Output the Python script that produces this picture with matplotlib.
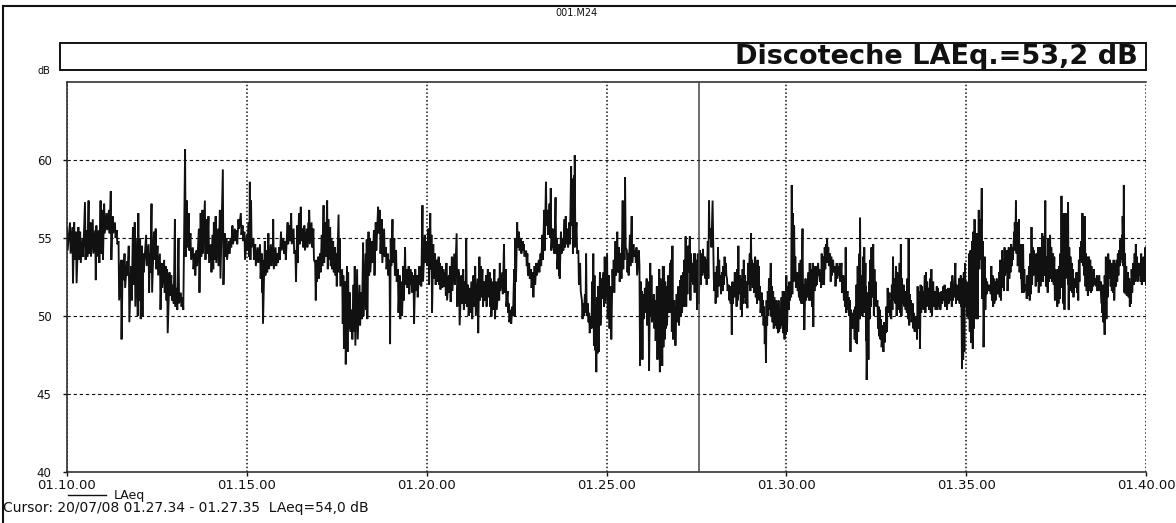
import matplotlib.pyplot as plt
from matplotlib.patches import Rectangle
from matplotlib.lines import Line2D

# LAeq short-time levels, 01.10.00 - 01.40.00
# sec = seconds after 01.10.00, peak / dip = top and bottom of the trace in that slot (dB)
sec = [
    0, 5, 9, 12, 15, 19, 22, 26, 30, 33,
    36, 39, 43, 47, 49, 53, 56, 59, 62, 66,
    70, 73, 76, 80, 83, 86, 90, 93, 96, 100,
    103, 107, 110, 113, 117, 119, 122, 125, 127, 132,
    136, 138, 141, 145, 148, 151, 155, 158, 162, 165,
    167, 171, 174, 177, 180, 183, 186, 190, 193, 197,
    200, 203, 206, 210, 213, 216, 220, 223, 226, 230,
    233, 236, 240, 243, 245, 248, 252, 255, 260, 263,
    266, 270, 273, 276, 280, 283, 286, 290, 293, 296,
    300, 303, 305, 307, 311, 314, 318,
    322, 325, 326, 330, 333, 336, 340, 342, 344, 348,
    351, 354, 357, 361, 364, 368, 371, 374, 378, 381,
    384, 387, 390, 393, 396, 400, 403, 404, 408, 411,
    414, 416, 419, 422, 425, 428, 431, 434, 436, 439,
    441, 444, 447, 449, 453, 455, 459, 461, 464, 467,
    469, 472, 475, 478, 480, 484, 488, 491, 494, 498,
    500, 503, 505, 509, 512, 515, 519, 522, 525, 529,
    532, 535, 538, 540, 543, 546, 549, 552, 555, 558,
    561, 564, 567, 570, 573, 575, 578, 581, 584, 588,
    590, 593, 597, 600, 603, 606, 608, 611, 614, 617,
    620, 622, 625, 628, 631, 633, 637,
    639, 642, 646, 650, 653, 654, 658, 661, 664, 666,
    669, 672, 675, 678, 681, 685, 688, 690, 693, 696,
    699, 702, 705, 707, 710, 713, 716, 720, 722, 726,
    729, 732, 735, 737, 740, 743, 746, 748, 751, 754,
    757, 760, 762, 766, 768, 771, 774, 777, 780, 783,
    787, 790, 793, 796, 799, 802, 805, 807, 810, 812,
    815, 817, 820, 821, 824, 827, 830, 832, 835, 838,
    841, 843, 846, 847, 850, 853, 856, 859, 861, 864,
    866, 869, 871, 874, 876, 878, 880, 882, 884, 886,
    889, 892, 895, 897, 901, 904, 907, 910, 912, 915,
    918, 921, 924, 927, 929, 931, 934, 936, 939, 942,
    945, 948, 950, 954,
    955, 957, 959, 961, 964, 967, 970, 973, 975, 977,
    979, 981, 984, 986, 988, 990, 992, 994, 996, 998,
    1000, 1003, 1006, 1008, 1010, 1013, 1014, 1017, 1020, 1023,
    1025, 1028, 1030, 1032, 1034, 1036, 1039, 1041, 1044, 1046,
    1048, 1050, 1053, 1056, 1059, 1061, 1064, 1066, 1069, 1071,
    1074, 1077, 1079, 1081, 1084, 1086, 1088, 1090, 1093, 1095,
    1097, 1099, 1101, 1104, 1106, 1108, 1110, 1112, 1114, 1116,
    1118, 1120, 1123, 1125, 1127, 1129, 1131, 1134, 1136, 1139,
    1141, 1143, 1145, 1148, 1150, 1152, 1154, 1156, 1159, 1161,
    1163, 1165, 1167, 1169, 1171, 1174, 1176, 1178, 1180, 1183,
    1185, 1187, 1189, 1192, 1194, 1196, 1198, 1200, 1203, 1205,
    1207, 1209, 1211, 1213, 1215, 1218, 1220, 1222, 1224, 1227,
    1229, 1232, 1234, 1237, 1239, 1242, 1244, 1246, 1248, 1250,
    1253, 1255, 1257, 1259, 1262, 1264, 1266, 1268, 1270,
    1273, 1275, 1278, 1281, 1284, 1287, 1289, 1292, 1295, 1297,
    1299, 1302, 1304, 1306, 1308, 1310, 1313, 1315, 1317, 1319,
    1322, 1323, 1326, 1328, 1330, 1332, 1333, 1336, 1338, 1340,
    1342, 1345, 1347, 1349, 1352, 1354, 1356, 1358, 1361, 1363,
    1365, 1367, 1369, 1372, 1374, 1376, 1378, 1381, 1383, 1385,
    1387, 1389, 1391, 1393, 1396, 1398, 1400, 1402, 1404, 1406,
    1408, 1411, 1413, 1415, 1417, 1419, 1422, 1424, 1426, 1428,
    1431, 1433, 1435, 1437, 1440, 1442, 1445, 1448, 1451, 1453,
    1456, 1459, 1462, 1464, 1467, 1470, 1473, 1475, 1477, 1479,
    1482, 1484, 1486, 1488, 1491, 1492, 1494, 1496, 1498, 1501,
    1503, 1505, 1507, 1510, 1512, 1514, 1516, 1518, 1521, 1523,
    1526, 1528, 1531, 1533, 1535, 1537, 1540, 1542, 1544, 1546,
    1548, 1551, 1553, 1555, 1557, 1560, 1562, 1564, 1566, 1568,
    1571, 1573, 1575, 1577, 1580, 1581, 1583, 1585, 1587,
    1588, 1591, 1592, 1595, 1597, 1600, 1602, 1605, 1607, 1609,
    1611, 1613, 1615, 1617, 1620, 1623, 1625, 1627, 1630, 1632,
    1635, 1637, 1640, 1642, 1645, 1647, 1649, 1651, 1653, 1655,
    1657, 1659, 1661, 1663, 1665, 1666, 1669, 1670, 1672, 1674,
    1676, 1678, 1681, 1684, 1686, 1688, 1690, 1692, 1694, 1696,
    1698, 1700, 1702, 1705, 1707, 1709, 1711, 1713, 1716, 1718,
    1720, 1722, 1725, 1726, 1728, 1730, 1731, 1733, 1735, 1737,
    1740, 1742, 1744, 1746, 1749, 1751, 1753, 1755, 1757, 1760,
    1761, 1763, 1765, 1767, 1770, 1772, 1774, 1776, 1779, 1781,
    1783, 1785, 1787, 1790, 1792, 1794, 1796, 1799,
]
peak = [
    55.6, 56.0, 55.7, 56.0, 55.4, 55.7, 55.4, 55.0, 57.3, 55.5,
    57.4, 56.0, 56.2, 55.5, 55.8, 55.5, 57.4, 56.8, 57.2, 56.6,
    56.8, 58.0, 56.4, 56.0, 55.5, 54.8, 53.6, 53.6, 54.0, 53.5,
    54.5, 53.2, 55.7, 56.0, 55.0, 56.6, 55.0, 54.5, 54.0, 55.2,
    54.6, 54.0, 57.2, 55.4, 55.6, 54.5, 54.0, 53.4, 53.6, 53.2,
    53.0, 52.8, 52.6, 52.0, 56.2, 51.8, 55.0, 51.5, 51.2, 60.7,
    57.4, 56.6, 55.3, 54.4, 54.0, 54.2, 55.6, 56.6, 56.8, 57.4,
    56.2, 56.4, 54.6, 55.2, 56.0, 56.4, 55.6, 56.8, 59.4, 55.3,
    55.0, 54.8, 55.0, 55.8, 55.6, 55.5, 56.2, 56.6, 55.8, 55.4,
    55.2, 56.0, 58.6, 57.4, 55.0, 54.6, 54.4,
    54.6, 54.0, 53.6, 54.8, 54.2, 55.3, 54.6, 54.4, 56.2, 54.4,
    54.0, 54.4, 55.4, 55.0, 54.8, 56.0, 55.8, 56.6, 55.6, 54.2,
    55.8, 56.6, 57.0, 55.6, 55.8, 55.6, 56.0, 56.8, 56.0, 55.6,
    53.4, 53.6, 53.8, 54.0, 55.2, 57.1, 56.0, 57.4, 56.2, 55.7,
    55.0, 54.8, 54.4, 54.0, 56.5, 55.0, 53.0, 52.6, 52.2, 53.2,
    52.8, 51.5, 50.4, 52.0, 53.2, 53.0, 52.0, 51.5, 54.7, 54.0,
    54.9, 55.4, 55.0, 54.8, 55.5, 56.0, 57.0, 56.8, 56.2, 55.6,
    54.4, 54.0, 53.6, 55.0, 56.2, 55.0, 54.2, 53.0, 52.6, 52.2,
    53.2, 54.4, 53.0, 53.2, 53.0, 52.8, 52.6, 53.0, 52.6, 53.2,
    52.8, 57.1, 55.2, 54.8, 55.6, 56.6, 55.2, 54.6, 54.0, 53.6,
    53.8, 53.4, 53.2, 53.0, 52.8, 53.4, 52.6,
    53.2, 53.8, 54.0, 55.3, 53.0, 52.8, 52.6, 53.0, 52.2, 55.0,
    52.0, 51.8, 52.2, 52.6, 53.2, 52.4, 53.8, 53.2, 53.0, 52.2,
    52.6, 53.0, 52.8, 52.4, 52.2, 53.0, 52.2, 52.4, 53.4, 52.8,
    54.6, 53.0, 51.6, 50.8, 50.4, 50.6, 53.0, 55.0, 56.0, 55.4,
    55.0, 54.8, 54.6, 54.2, 54.0, 53.4, 53.0, 52.8, 53.2, 53.4,
    53.6, 54.0, 55.2, 56.8, 58.6, 56.8, 57.2, 58.2, 55.6, 55.2,
    57.6, 55.0, 54.6, 54.0, 55.4, 55.0, 56.2, 56.4, 55.6, 56.0,
    59.6, 58.8, 59.0, 60.3, 56.0, 54.2, 53.4, 51.0, 50.8, 51.4,
    54.0, 50.8, 50.2, 50.0, 52.2, 54.0, 52.6, 50.6, 51.2, 51.9,
    52.8, 52.4, 52.8, 53.8, 54.0, 52.6, 51.9, 53.0, 53.6, 54.8,
    55.4, 54.4, 54.0, 57.4, 55.6, 58.9, 54.2, 54.0, 55.2, 56.4,
    54.6, 54.2, 54.4, 54.2,
    53.0, 52.2, 51.6, 51.4, 51.8, 52.4, 52.2, 53.4, 52.6, 51.2,
    51.4, 51.0, 51.9, 50.8, 53.0, 52.4, 52.0, 53.2, 53.2, 52.2,
    51.9, 52.6, 53.4, 53.6, 54.5, 51.0, 50.6, 51.4, 51.9, 52.3,
    52.6, 52.8, 53.6, 55.1, 54.2, 54.5, 55.1, 54.0, 53.4, 54.0,
    54.0, 53.6, 54.0, 54.2, 54.0, 54.3, 53.8, 53.6, 54.8, 57.4,
    55.6, 57.4, 52.4, 52.8, 53.2, 54.4, 53.6, 52.6, 52.8, 53.2,
    53.8, 53.4, 52.4, 52.0, 51.9, 51.5, 52.2, 52.0, 52.8, 52.4,
    53.0, 54.5, 52.6, 52.4, 53.0, 53.6, 52.6, 52.2, 53.4, 54.0,
    55.3, 53.6, 53.4, 53.8, 53.0, 53.6, 53.2, 51.9, 51.5, 51.0,
    50.6, 50.0, 51.0, 51.6, 52.4, 53.4, 51.9, 51.6, 51.2, 51.0,
    50.6, 51.0, 50.4, 51.2, 51.6, 51.2, 51.6, 52.6, 51.9, 52.2,
    52.0, 58.4, 56.6, 55.8, 53.8, 52.8, 52.2, 53.4, 53.6, 55.6,
    52.0, 52.4, 52.2, 52.8, 53.4, 53.0, 53.4, 53.0, 53.2, 53.2,
    53.4, 53.0, 52.8, 54.0, 53.8, 54.4, 54.6, 55.0, 54.4,
    54.0, 53.8, 53.6, 53.2, 53.4, 53.2, 53.4, 53.4, 52.6, 52.4,
    54.4, 51.6, 51.2, 51.0, 50.4, 50.2, 50.4, 50.6, 52.0, 53.2,
    54.0, 56.3, 52.6, 53.8, 54.4, 53.4, 51.9, 51.5, 52.2, 53.6,
    54.4, 54.6, 53.0, 52.2, 51.0, 50.6, 50.4, 49.8, 49.4, 49.6,
    49.6, 50.6, 51.8, 51.5, 51.0, 52.0, 53.8, 52.4, 53.2, 52.8,
    52.6, 53.4, 54.6, 52.4, 52.0, 51.6, 51.4, 52.4, 55.0, 51.4,
    51.0, 50.8, 50.2, 50.0, 50.0, 51.9, 51.6, 52.0, 51.9, 51.6,
    52.6, 52.8, 52.2, 51.8, 52.4, 53.0, 52.2, 51.6, 51.9, 51.8,
    51.5, 51.6, 51.9, 52.0, 51.7, 51.8, 51.8, 52.2, 52.6, 52.0,
    53.4, 52.0, 51.9, 52.4, 52.6, 52.0, 52.4, 52.8, 53.4, 52.2,
    52.0, 54.0, 54.2, 54.8, 55.4, 56.2, 54.6, 55.3, 56.8, 56.2,
    58.2, 54.8, 53.8, 52.4, 52.2, 52.0, 52.0, 53.2, 52.6, 52.4,
    52.2, 52.4, 52.2, 52.8, 53.6, 54.2, 53.4, 54.4, 54.0, 54.2,
    54.4, 54.0, 54.6, 54.4, 55.4, 56.0, 57.4, 56.0, 55.6,
    56.2, 54.6, 53.0, 54.6, 53.0, 52.0, 52.6, 53.2, 54.0, 55.7,
    54.4, 54.2, 53.8, 54.0, 54.4, 54.4, 54.0, 55.3, 55.1, 57.4,
    53.8, 55.0, 55.2, 54.4, 54.0, 53.8, 53.0, 52.8, 53.0, 53.2,
    54.0, 57.7, 56.4, 56.6, 55.6, 56.6, 56.2, 57.3, 54.4, 53.8,
    53.4, 53.0, 52.4, 52.8, 52.8, 53.6, 54.4, 54.8, 56.6, 56.2,
    56.4, 54.0, 53.8, 53.8, 53.6, 53.2, 52.8, 53.0, 52.4, 52.6,
    52.4, 52.6, 52.2, 51.9, 52.0, 51.9, 52.6, 53.8, 53.0, 54.0,
    53.6, 53.2, 53.4, 53.6, 53.4, 53.6, 54.0, 54.2, 54.9, 55.2,
    56.4, 58.4, 54.0, 53.2, 52.8, 52.4, 52.2, 53.0, 53.4, 54.0,
    54.6, 53.8, 53.4, 53.4, 54.0, 53.6, 53.8, 54.4,
]
dip = [
    54.2, 54.0, 52.1, 53.6, 52.1, 53.6, 53.4, 53.8, 53.6, 53.8,
    54.0, 53.8, 54.0, 52.3, 53.8, 53.4, 54.0, 53.6, 55.3, 55.5,
    55.3, 53.6, 55.3, 55.0, 54.6, 51.0, 48.5, 52.3, 51.8, 52.6,
    49.6, 51.0, 52.0, 50.6, 50.0, 51.0, 49.8, 50.0, 52.8, 53.2,
    51.5, 52.8, 51.5, 53.6, 53.0, 52.6, 50.4, 51.8, 51.5, 51.0,
    48.9, 51.3, 51.0, 50.8, 50.6, 50.4, 50.8, 50.6, 50.4, 53.8,
    54.4, 54.2, 53.6, 53.0, 52.6, 53.2, 51.5, 53.8, 54.0, 53.6,
    54.0, 53.4, 52.8, 53.0, 53.6, 53.4, 53.2, 52.4, 52.0, 53.8,
    53.6, 54.0, 54.4, 54.6, 54.8, 54.6, 55.6, 55.2, 54.8, 53.6,
    54.2, 53.8, 53.6, 54.4, 53.6, 53.2, 53.4,
    52.4, 51.5, 49.5, 52.6, 52.8, 53.0, 53.2, 53.4, 53.0, 53.2,
    53.4, 53.6, 54.2, 54.0, 53.6, 54.6, 54.8, 54.6, 54.0, 52.2,
    53.4, 54.6, 54.8, 54.4, 54.2, 54.4, 54.8, 54.6, 54.4, 53.6,
    51.0, 52.2, 52.4, 52.8, 53.2, 53.4, 53.8, 53.0, 53.6, 53.2,
    53.0, 52.8, 52.6, 51.9, 52.8, 51.9, 49.5, 47.9, 46.9, 47.7,
    49.2, 49.0, 48.5, 49.0, 48.1, 48.5, 49.4, 49.8, 50.0, 50.4,
    49.8, 52.6, 52.8, 53.4, 52.6, 54.2, 55.3, 54.0, 53.4, 53.8,
    53.0, 52.6, 48.2, 53.2, 53.4, 52.6, 52.2, 50.2, 49.8, 50.0,
    51.0, 52.0, 51.8, 51.4, 52.0, 51.5, 49.5, 51.6, 51.2, 52.0,
    51.9, 52.2, 53.4, 53.2, 52.0, 53.0, 50.2, 52.4, 52.0, 52.2,
    52.0, 51.7, 51.8, 51.9, 51.3, 51.0, 51.5,
    50.9, 51.6, 52.0, 50.6, 51.4, 49.4, 50.8, 50.4, 50.8, 50.6,
    50.0, 50.2, 49.8, 50.6, 50.0, 48.9, 51.0, 51.2, 50.6, 51.0,
    50.6, 51.2, 50.6, 50.0, 50.4, 49.8, 50.4, 51.0, 51.6, 51.4,
    51.5, 50.6, 50.2, 49.6, 49.5, 50.0, 50.0, 52.2, 54.4, 54.2,
    54.0, 54.2, 53.8, 53.2, 52.6, 52.4, 51.8, 51.2, 52.0, 52.6,
    52.8, 53.2, 53.6, 54.2, 55.8, 55.2, 55.0, 54.2, 54.4, 54.0,
    54.0, 53.0, 52.6, 52.4, 54.0, 54.2, 54.4, 54.6, 54.4, 54.6,
    55.8, 54.0, 54.4, 54.8, 54.0, 52.0, 51.6, 49.8, 50.0, 50.2,
    50.0, 49.6, 48.9, 49.2, 49.4, 48.1, 47.8, 46.4, 47.6, 47.7,
    49.4, 51.1, 50.6, 50.8, 49.8, 49.2, 48.5, 51.6, 51.5, 52.6,
    52.8, 52.2, 52.4, 53.0, 53.6, 54.4, 52.8, 52.6, 53.2, 53.4,
    53.8, 53.4, 52.6, 53.2,
    46.8, 48.0, 47.2, 49.8, 50.2, 49.4, 46.5, 50.0, 49.6, 49.8,
    49.2, 48.4, 47.2, 48.8, 46.4, 47.0, 46.8, 48.0, 48.5, 49.2,
    49.4, 50.2, 50.2, 49.0, 48.5, 48.6, 48.1, 49.6, 49.4, 50.0,
    50.2, 50.6, 51.2, 50.6, 51.4, 52.8, 51.0, 52.2, 52.0, 51.5,
    51.6, 50.4, 50.8, 52.0, 52.6, 52.8, 52.4, 52.0, 52.4, 55.0,
    54.4, 55.0, 51.6, 50.8, 51.2, 51.9, 52.0, 51.4, 51.6, 52.0,
    52.6, 52.6, 51.6, 51.0, 50.8, 48.8, 50.8, 51.2, 51.4, 50.6,
    51.0, 51.4, 50.4, 50.0, 50.8, 51.2, 50.8, 50.5, 52.0, 51.6,
    52.0, 51.8, 51.5, 51.2, 50.8, 51.5, 51.0, 50.2, 50.0, 49.4,
    48.2, 47.0, 49.4, 50.0, 50.4, 50.0, 49.6, 49.2, 49.4, 49.2,
    48.9, 49.0, 49.2, 49.4, 48.9, 48.5, 48.8, 49.0, 50.4, 51.0,
    51.2, 51.4, 52.2, 52.6, 51.8, 51.6, 51.2, 51.0, 50.8, 50.8,
    49.1, 51.0, 51.2, 51.0, 51.0, 50.6, 49.3, 51.6, 51.9, 52.0,
    52.6, 52.2, 51.8, 52.0, 52.0, 53.0, 53.4, 53.6, 53.2,
    52.2, 52.6, 52.8, 51.9, 52.4, 52.6, 52.2, 51.5, 51.0, 50.6,
    50.2, 50.4, 50.0, 47.7, 49.4, 49.2, 48.5, 48.3, 48.2, 49.0,
    49.8, 50.0, 50.0, 50.2, 51.0, 48.4, 45.9, 47.2, 49.8, 50.6,
    51.2, 50.0, 50.8, 50.6, 49.2, 48.7, 48.5, 48.0, 47.7, 48.3,
    48.9, 49.0, 50.2, 50.0, 49.8, 50.4, 51.0, 50.8, 50.0, 50.4,
    50.6, 50.2, 50.0, 50.8, 50.6, 50.4, 50.2, 49.8, 49.4, 50.4,
    49.6, 49.2, 49.0, 49.0, 48.5, 49.2, 47.9, 50.2, 50.6, 50.4,
    50.2, 50.6, 50.8, 50.4, 50.2, 50.0, 50.6, 50.4, 50.4, 50.6,
    50.4, 50.8, 51.0, 50.6, 50.4, 50.8, 51.0, 50.6, 51.0, 51.2,
    50.8, 51.2, 51.0, 50.8, 50.6, 46.6, 47.2, 47.7, 50.6, 50.0,
    49.8, 49.0, 48.3, 47.9, 49.2, 50.0, 49.8, 49.8, 53.0, 53.6,
    51.1, 48.0, 50.4, 51.4, 51.6, 51.6, 51.4, 51.0, 50.6, 50.8,
    51.0, 51.4, 51.4, 51.2, 51.0, 51.8, 51.6, 52.6, 52.8, 51.6,
    52.4, 52.8, 53.2, 53.6, 54.6, 54.2, 54.0, 53.2, 53.4,
    52.8, 52.4, 51.5, 51.5, 51.6, 51.1, 51.3, 51.0, 51.4, 52.0,
    52.6, 53.0, 51.9, 52.2, 51.5, 51.9, 52.4, 52.2, 52.6, 51.9,
    51.5, 52.2, 52.4, 52.2, 52.0, 51.0, 51.5, 50.6, 50.8, 51.1,
    51.8, 52.2, 50.8, 50.4, 52.4, 52.6, 52.0, 50.4, 51.9, 51.6,
    51.5, 51.2, 51.8, 51.5, 51.0, 52.2, 53.6, 53.4, 53.2, 52.6,
    51.9, 51.6, 51.3, 51.6, 51.5, 51.6, 51.9, 52.0, 51.9, 51.6,
    51.6, 51.6, 50.8, 50.2, 49.6, 48.8, 50.0, 49.8, 51.2, 52.4,
    51.9, 51.6, 51.5, 51.0, 51.9, 52.2, 52.6, 53.2, 53.6, 53.4,
    53.2, 51.5, 51.4, 51.3, 51.2, 50.6, 50.8, 51.5, 52.0, 52.2,
    52.4, 52.2, 52.6, 52.2, 52.0, 52.4, 52.2, 52.0,
]

tick_sec = [0, 300, 600, 900, 1200, 1500, 1800]
tick_labels = ['01.10.00', '01.15.00', '01.20.00', '01.25.00',
               '01.30.00', '01.35.00', '01.40.00']
db_ticks = [40, 45, 50, 55, 60]
cursor_sec = 1054  # 01.27.34

W, H = 1176, 523
fig = plt.figure(figsize=(W / 100, H / 100), dpi=100)
fig.patch.set_facecolor('white')

def fx(px):
    return px / W

def fy(py):
    return 1 - py / H

# zigzag trace: top then bottom of every slot
xs, ys = [], []
for t, hi, lo in zip(sec, peak, dip):
    xs += [t, t + 1]
    ys += [hi, lo]

ax = fig.add_axes([fx(67), fy(472), fx(1146) - fx(67), fy(82) - fy(472)])
ax.plot(xs, ys, color='#111111', lw=1.35, solid_joinstyle='miter')
ax.axvline(cursor_sec, color='#444444', lw=1.1, zorder=3)

ax.set_xlim(0, 1800)
ax.set_ylim(40, 65)
ax.set_xticks(tick_sec)
ax.set_xticklabels(tick_labels)
ax.set_yticks(db_ticks)
ax.tick_params(axis='both', length=3, width=1, direction='out',
               labelsize=9.5, colors='#111111')
ax.tick_params(axis='x', pad=2)
ax.tick_params(axis='y', pad=8, labelsize=8.5)
ax.yaxis.grid(True, ls=(0, (3, 2.5)), color='#111111', lw=0.8)
ax.xaxis.grid(True, ls=(0, (1, 1.5)), color='#111111', lw=1.1)
ax.set_axisbelow(True)
for s in ['left', 'bottom', 'top']:
    ax.spines[s].set_linewidth(1.1)
    ax.spines[s].set_color('#222222')
ax.spines['right'].set_visible(False)

# title box
fig.patches.append(Rectangle((fx(60), fy(70)), fx(1146) - fx(60), fy(43) - fy(70),
                             transform=fig.transFigure, fill=False,
                             edgecolor='#111111', lw=1.4))
fig.text(fx(1138), fy(57), 'Discoteche LAEq.=53,2 dB', ha='right', va='center',
         fontsize=19.5, fontweight='bold', family='DejaVu Sans', color='#111111')

# outer frame
fig.lines.append(Line2D([fx(3), fx(3)], [fy(6), 0], transform=fig.transFigure,
                        color='#111111', lw=1.5))
fig.lines.append(Line2D([fx(3), 1], [fy(6), fy(6)], transform=fig.transFigure,
                        color='#111111', lw=1.5))

fig.text(fx(577), fy(13), '001.M24', ha='center', va='center', fontsize=7, color='#111111')
fig.text(fx(44), fy(71), 'dB', ha='center', va='center', fontsize=7, color='#111111')

# legend
fig.lines.append(Line2D([fx(68), fx(106)], [fy(495), fy(495)], transform=fig.transFigure,
                        color='#111111', lw=1))
fig.text(fx(114), fy(495), 'LAeq', ha='left', va='center', fontsize=9, color='#111111')

fig.text(fx(3), fy(508), 'Cursor: 20/07/08 01.27.34 - 01.27.35  LAeq=54,0 dB',
         ha='left', va='center', fontsize=10, color='#111111')

fig.savefig('out.png', dpi=100)
